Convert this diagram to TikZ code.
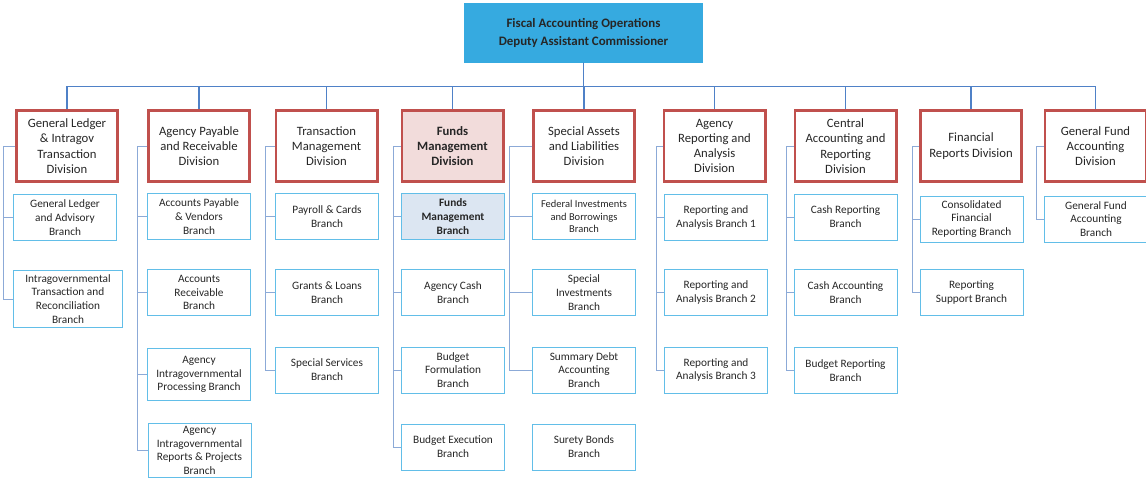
\documentclass[tikz,border=0pt]{standalone}
\usepackage{fontspec}
\setmainfont{Carlito}
\definecolor{headblue}{RGB}{54,170,224}
\definecolor{divred}{RGB}{192,80,77}
\definecolor{divpink}{RGB}{242,220,219}
\definecolor{branchblue}{RGB}{98,190,232}
\definecolor{branchfill}{RGB}{220,230,242}
\definecolor{barblue}{RGB}{79,129,199}
\definecolor{spineblue}{RGB}{140,170,215}
\definecolor{inkgray}{RGB}{38,38,38}

\begin{document}
\begin{tikzpicture}[x=1pt, y=-1pt,
    every node/.style={align=center, inner sep=1pt, text=inkgray},
    headbox/.style={draw=headblue, fill=headblue, minimum width=238, minimum height=59,
        font=\fontsize{12.9}{17.5}\selectfont\bfseries},
    division/.style={draw=divred, line width=2.6pt, minimum width=101.4, minimum height=71.4,
        font=\fontsize{12.7}{15.3}\selectfont},
    branch/.style={draw=branchblue, line width=0.8pt, minimum width=103.2, minimum height=46.2,
        font=\fontsize{11.3}{13.8}\selectfont},
    orgline/.style={draw=barblue, line width=1.1pt},
    spine/.style={draw=spineblue, line width=0.9pt}]
        \useasboundingbox (0,0) rectangle (1146,477);

        % commissioner
        \node[headbox] (fao) at (583.5,33) {Fiscal Accounting Operations\\Deputy Assistant Commissioner};

        % divisions
        \node[division] (gld) at (67,146) {General Ledger\\\& Intragov\\Transaction\\Division};
        \node[division] (apr) at (199,146) {Agency Payable\\and Receivable\\Division};
        \node[division] (tmd) at (326.5,146) {Transaction\\Management\\Division};
        \node[division, fill=divpink, font=\fontsize{12.7}{15.3}\selectfont\bfseries] (fmd) at (452.5,146) {Funds\\Management\\Division};
        \node[division] (sal) at (584,146) {Special Assets\\and Liabilities\\Division};
        \node[division] (ara) at (714.5,146) {Agency\\Reporting and\\Analysis\\Division};
        \node[division] (car) at (845.5,146) {Central\\Accounting and\\Reporting\\Division};
        \node[division] (frd) at (971,146) {Financial\\Reports Division};
        \node[division] (gfd) at (1095.5,146) {General Fund\\Accounting\\Division};

        \draw[orgline] (fao.south) -- ++(0,24) -| (gld.north);
        \draw[orgline] (fao.south) -- ++(0,24) -| (apr.north);
        \draw[orgline] (fao.south) -- ++(0,24) -| (tmd.north);
        \draw[orgline] (fao.south) -- ++(0,24) -| (fmd.north);
        \draw[orgline] (fao.south) -- ++(0,24) -| (sal.north);
        \draw[orgline] (fao.south) -- ++(0,24) -| (ara.north);
        \draw[orgline] (fao.south) -- ++(0,24) -| (car.north);
        \draw[orgline] (fao.south) -- ++(0,24) -| (frd.north);
        \draw[orgline] (fao.south) -- ++(0,24) -| (gfd.north);

        % branches
        \node[branch] (gla) at (65,217.5) {General Ledger\\and Advisory\\Branch};
        \node[branch, minimum width=109, minimum height=57.2] (itr) at (68,299) {Intragovernmental\\Transaction and\\Reconciliation\\Branch};

        \node[branch] (apv) at (199,216.5) {Accounts Payable\\\& Vendors\\Branch};
        \node[branch] (arb) at (199,292.5) {Accounts\\Receivable\\Branch};
        \node[branch, minimum height=52.2] (aip) at (199,374.5) {Agency\\Intragovernmental\\Processing Branch};
        \node[branch, minimum height=54.2] (arp) at (199.5,450.5) {Agency\\Intragovernmental\\Reports \& Projects\\Branch};

        \node[branch] (pcb) at (327,216.5) {Payroll \& Cards\\Branch};
        \node[branch] (glb) at (327,292.5) {Grants \& Loans\\Branch};
        \node[branch] (ssb) at (327,370) {Special Services\\Branch};

        \node[branch, fill=branchfill, font=\fontsize{11.3}{13.8}\selectfont\bfseries] (fmb) at (453,216.5) {Funds\\Management\\Branch};
        \node[branch] (acb) at (453,292.5) {Agency Cash\\Branch};
        \node[branch] (bfb) at (453,370) {Budget\\Formulation\\Branch};
        \node[branch] (beb) at (453,447) {Budget Execution\\Branch};

        \node[branch, font=\fontsize{10.5}{12.5}\selectfont] (fib) at (584,216.5) {Federal Investments\\and Borrowings\\Branch};
        \node[branch] (sib) at (584,292.5) {Special\\Investments\\Branch};
        \node[branch] (sdb) at (584,370) {Summary Debt\\Accounting\\Branch};
        \node[branch] (sbb) at (584,447) {Surety Bonds\\Branch};

        \node[branch] (ra1) at (716,217.5) {Reporting and\\Analysis Branch 1};
        \node[branch] (ra2) at (716,292.5) {Reporting and\\Analysis Branch 2};
        \node[branch] (ra3) at (716,370) {Reporting and\\Analysis Branch 3};

        \node[branch] (crb) at (845.5,217) {Cash Reporting\\Branch};
        \node[branch] (cab) at (845.5,292.5) {Cash Accounting\\Branch};
        \node[branch] (brb) at (845.5,370.5) {Budget Reporting\\Branch};

        \node[branch] (cfr) at (971.5,219) {Consolidated\\Financial\\Reporting Branch};
        \node[branch] (rsb) at (971.5,292.5) {Reporting\\Support Branch};

        \node[branch] (gfb) at (1096,219) {General Fund\\Accounting\\Branch};

        % spines
        \draw[spine] (gld.west) -- ++(-12,0) |- (gla.west);
        \draw[spine] (gld.west) -- ++(-12,0) |- (itr.west);

        \draw[spine] (apr.west) -- ++(-10,0) |- (apv.west);
        \draw[spine] (apr.west) -- ++(-10,0) |- (arb.west);
        \draw[spine] (apr.west) -- ++(-10,0) |- (aip.west);
        \draw[spine] (apr.west) -- ++(-10,0) |- (arp.west);

        \draw[spine] (tmd.west) -- ++(-9,0) |- (pcb.west);
        \draw[spine] (tmd.west) -- ++(-9,0) |- (glb.west);
        \draw[spine] (tmd.west) -- ++(-9,0) |- (ssb.west);

        \draw[spine] (fmd.west) -- ++(-7,0) |- (fmb.west);
        \draw[spine] (fmd.west) -- ++(-7,0) |- (acb.west);
        \draw[spine] (fmd.west) -- ++(-7,0) |- (bfb.west);
        \draw[spine] (fmd.west) -- ++(-7,0) |- (beb.west);

        \draw[spine] (sal.west) -- ++(-23,0) |- (fib.west);
        \draw[spine] (sal.west) -- ++(-23,0) |- (sib.west);
        \draw[spine] (sal.west) -- ++(-23,0) |- (sdb.west);

        \draw[spine] (ara.west) -- ++(-6,0) |- (ra1.west);
        \draw[spine] (ara.west) -- ++(-6,0) |- (ra2.west);
        \draw[spine] (ara.west) -- ++(-6,0) |- (ra3.west);

        \draw[spine] (car.west) -- ++(-7,0) |- (crb.west);
        \draw[spine] (car.west) -- ++(-7,0) |- (cab.west);
        \draw[spine] (car.west) -- ++(-7,0) |- (brb.west);

        \draw[spine] (frd.west) -- ++(-7,0) |- (cfr.west);
        \draw[spine] (frd.west) -- ++(-7,0) |- (rsb.west);

        \draw[spine] (gfd.west) -- ++(-7,0) |- (gfb.west);
\end{tikzpicture}
\end{document}
